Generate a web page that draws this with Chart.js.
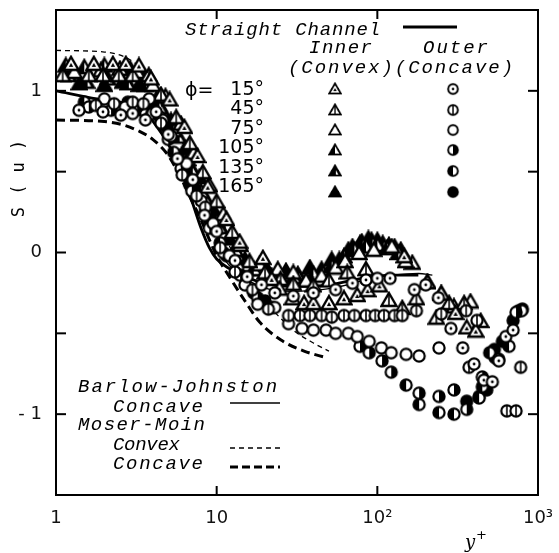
<!DOCTYPE html>
<html>
<head>
<meta charset="utf-8">
<script src="https://cdn.jsdelivr.net/npm/chart.js@4.4.0/dist/chart.umd.min.js"></script>
<style>
    html, body { margin: 0; padding: 0; background: #fff; }
    canvas { display: block; }
</style>
</head>
<body>
<canvas id="skewChart" width="559" height="553"></canvas>
<script>
// ==================== DATA ====================
const xTicks = [1, 10, 100, 1000];
const xTickLabels = ['1', '10', '10\u00B2', '10\u00B3'];
const yTicks = [-1, 0, 1];
const yTickLabels = ['- 1', '0', '1'];
const yTickMarks = [-1, -0.5, 0, 0.5, 1];
const phiLabels = ['15\u00B0', '45\u00B0', '75\u00B0', '105\u00B0', '135\u00B0', '165\u00B0'];

// lines [y+, S(u)]
const straightChannel = [[1,1.0],[1.8,0.95],[2.5,0.93],[3.5,0.88],[4.3,0.77],[5,0.67],[6,0.5],[7,0.32],[8,0.15],[9,0.03],[10,-0.04],[12,-0.1],[15,-0.15],[20,-0.19],[30,-0.21],[50,-0.2],[80,-0.16],[120,-0.14],[180,-0.14]];
const barlowConcave = [[10,0.02],[12,-0.08],[15,-0.16],[20,-0.22],[30,-0.24],[45,-0.23],[65,-0.2],[90,-0.16],[125,-0.14],[180,-0.13],[220,-0.14]];
const moserConvex = [[1,1.25],[2,1.24],[2.8,1.2],[3.5,1.12],[4.2,0.99],[5,0.86],[6,0.7],[7,0.55],[8,0.42],[10,0.2],[12,0.04],[15,-0.13],[20,-0.3],[30,-0.48],[40,-0.56],[50,-0.61]];
const moserConcave = [[1,0.82],[2,0.81],[2.6,0.79],[3.3,0.75],[4,0.7],[5,0.6],[6,0.46],[7,0.32],[8,0.2],[9,0.08],[10,-0.02],[12,-0.15],[15,-0.3],[18.5,-0.43],[25,-0.54],[35,-0.61],[48,-0.65]];

// inner (convex) wall, triangles
const inner15 = [[1.24,1.17],[1.72,1.17],[2.26,1.17],[2.72,1.17],[3.28,1.16],[3.9,1.08],[5.1,0.95],[6.3,0.78],[7.6,0.6],[8.8,0.41],[11.5,0.21],[13.9,0.07],[19.4,-0.03],[22,-0.16],[24.6,-0.22],[29.6,-0.28],[35,-0.31],[40,-0.31],[50,-0.31],[62,-0.28],[75,-0.26],[87,-0.23],[103,-0.2],[147,-0.02],[205,-0.18],[250,-0.25],[307,-0.37],[360,-0.46],[410,-0.48]];
const inner45 = [[1.1,1.1],[1.6,1.1],[1.96,1.1],[2.46,1.1],[3.0,1.1],[3.78,1.1],[4.5,0.98],[5.6,0.84],[6.8,0.68],[8.2,0.5],[10,0.32],[12.5,0.13],[16,-0.05],[20,-0.12],[25,-0.16],[30,-0.19],[40,-0.2],[50,-0.17],[65,-0.12],[85,-0.1],[118,-0.29],[143,-0.34],[175,-0.28],[233,-0.4],[280,-0.31],[347,-0.31],[440,-0.42]];
const inner75 = [[1.3,1.12],[1.9,1.13],[2.5,1.14],[3.2,1.12],[4.0,1.04],[4.8,0.97],[6,0.8],[7.2,0.62],[9,0.42],[11,0.24],[14,0.05],[18.5,-0.07],[24,-0.1],[30,-0.12],[36,-0.17],[45,-0.14],[55,-0.09],[63,-0.05],[77,0.0],[95,0.02],[123,0.04],[150,-0.05],[205,-0.18],[250,-0.25],[300,-0.33],[380,-0.3]];
const inner105 = [[1.15,1.16],[1.5,1.15],[2.0,1.16],[2.9,1.14],[3.5,1.08],[4.4,0.9],[5.4,0.76],[6.6,0.58],[8,0.38],[10,0.2],[13,0.02],[17,-0.1],[22,-0.14],[30,-0.15],[40,-0.13],[52,-0.08],[62,-0.02],[72,0.02],[85,0.04],[100,0.05],[115,0.03],[135,0.0],[165,-0.06]];
const inner135 = [[1.2,1.1],[1.55,1.06],[2.1,1.08],[2.8,1.05],[3.6,1.04],[4.6,0.88],[5.8,0.72],[7,0.52],[8.5,0.34],[10.5,0.16],[13.5,-0.01],[18,-0.1],[24,-0.13],[32,-0.13],[45,-0.1],[58,-0.04],[70,0.04],[80,0.07],[92,0.08],[108,0.06],[128,0.04]];
const inner165 = [[1.4,1.05],[2.0,1.04],[2.6,1.06],[3.3,1.04],[4.2,0.95],[5.2,0.82],[6.4,0.65],[7.8,0.47],[9.5,0.27],[12,0.09],[15,-0.04],[20,-0.08],[27,-0.11],[38,-0.09],[52,-0.04],[66,0.02],[78,0.06],[88,0.09],[100,0.08],[118,0.05],[140,0.02]];

// outer (concave) wall, circles
const outer15 = [[1.39,0.88],[1.96,0.87],[2.53,0.85],[3.0,0.86],[3.6,0.82],[4.2,0.87],[5.0,0.73],[5.7,0.58],[7.1,0.45],[8.4,0.23],[10,0.13],[13,-0.05],[15.5,-0.15],[19,-0.2],[23,-0.25],[30,-0.27],[40,-0.25],[55,-0.23],[70,-0.19],[85,-0.17],[100,-0.16],[120,-0.16],[170,-0.23],[200,-0.2],[240,-0.28],[287,-0.47],[340,-0.59],[400,-0.69],[460,-0.79],[520,-0.8],[570,-0.67],[630,-0.52],[700,-0.48]];
const outer45 = [[1.77,0.91],[2.3,0.92],[3.0,0.93],[3.5,0.92],[4.5,0.8],[6.1,0.48],[7.5,0.35],[8.5,0.28],[10.5,0.03],[13,-0.12],[16.7,-0.23],[21,-0.35],[28,-0.39],[33,-0.39],[38,-0.39],[45,-0.39],[52,-0.4],[62,-0.39],[72,-0.39],[85,-0.39],[97,-0.39],[110,-0.39],[128,-0.39],[143,-0.39],[175,-0.36],[250,-0.38],[357,-0.36],[417,-0.42],[372,-0.71],[640,-0.98],[730,-0.98],[780,-0.71]];
const outer75 = [[2.0,0.95],[2.7,0.9],[3.8,0.95],[4.6,0.82],[5.2,0.72],[6.5,0.55],[8,0.32],[9.5,0.18],[12,-0.02],[15,-0.2],[18,-0.32],[23,-0.34],[28,-0.44],[34,-0.47],[40,-0.48],[48,-0.48],[55,-0.5],[66,-0.5],[75,-0.52],[89,-0.55],[106,-0.59],[122,-0.62],[151,-0.63],[182,-0.64],[242,-0.59]];
const outer105 = [[1.6,0.9],[2.2,0.88],[3.2,0.9],[4.0,0.86],[5.0,0.7],[6.0,0.52],[7.0,0.38],[9,0.15],[11,0.0],[14,-0.14],[18,-0.28],[78,-0.58],[89,-0.62],[107,-0.67],[122,-0.74],[182,-0.87],[242,-0.89],[300,-0.85],[360,-0.97],[450,-0.77],[570,-0.66],[730,-0.37]];
const outer135 = [[1.5,0.93],[2.4,0.9],[3.4,0.88],[4.4,0.84],[5.4,0.62],[6.8,0.42],[8.5,0.25],[10.5,0.06],[13.5,-0.1],[17,-0.25],[22,-0.34],[151,-0.82],[182,-0.94],[242,-0.99],[300,-1.0],[430,-0.9],[450,-0.83],[500,-0.62],[660,-0.58],[790,-0.36]];
const outer165 = [[2.8,0.93],[3.9,0.9],[4.8,0.78],[5.8,0.6],[7.3,0.4],[9,0.2],[11.5,-0.02],[15,-0.15],[20,-0.3],[360,-0.92],[430,-0.89],[480,-0.85],[535,-0.6],[540,-0.65],[600,-0.55],[700,-0.42],[760,-0.36],[800,-0.35]];

// ==================== MARKERS ====================
function makeTriangle(kind) {
    const c = document.createElement('canvas');
    c.width = 18; c.height = 17;
    const g = c.getContext('2d');
    const path = () => { g.beginPath(); g.moveTo(9, 2); g.lineTo(16.5, 15); g.lineTo(1.5, 15); g.closePath(); };
    path();
    g.fillStyle = kind === 'full' ? '#000' : '#fff';
    g.fill();
    if (kind === 'left' || kind === 'most') {
        g.save(); path(); g.clip();
        g.fillStyle = '#000';
        g.fillRect(0, 0, kind === 'left' ? 9 : 18, 17);
        if (kind === 'most') {
            g.fillStyle = '#fff';
            g.beginPath(); g.moveTo(10, 8); g.lineTo(13.5, 14); g.lineTo(10, 14); g.closePath(); g.fill();
        }
        g.restore();
    }
    path();
    g.lineWidth = 2.4; g.strokeStyle = '#000'; g.lineJoin = 'miter';
    g.stroke();
    if (kind === 'dot') {
        g.fillStyle = '#000';
        g.beginPath(); g.moveTo(9, 8); g.lineTo(11.2, 12); g.lineTo(6.8, 12); g.closePath(); g.fill();
    }
    if (kind === 'line') {
        g.lineWidth = 1.6;
        g.beginPath(); g.moveTo(9, 3); g.lineTo(9, 15); g.stroke();
    }
    return c;
}

function makeCircle(kind) {
    const c = document.createElement('canvas');
    c.width = 16; c.height = 16;
    const g = c.getContext('2d');
    const path = () => { g.beginPath(); g.arc(8, 8, 5.6, 0, Math.PI * 2); };
    path();
    g.fillStyle = kind === 'full' ? '#000' : '#fff';
    g.fill();
    if (kind === 'right' || kind === 'left') {
        g.fillStyle = '#000';
        g.beginPath();
        if (kind === 'right') g.arc(8, 8, 5.6, -Math.PI / 2, Math.PI / 2);
        else g.arc(8, 8, 5.6, Math.PI / 2, Math.PI * 1.5);
        g.closePath(); g.fill();
    }
    path();
    g.lineWidth = 2.2; g.strokeStyle = '#000';
    g.stroke();
    if (kind === 'dot') {
        g.fillStyle = '#000';
        g.beginPath(); g.arc(8, 8, 1.4, 0, Math.PI * 2); g.fill();
    }
    if (kind === 'line') {
        g.lineWidth = 1.6;
        g.beginPath(); g.moveTo(8, 2.5); g.lineTo(8, 13.5); g.stroke();
    }
    return c;
}

const kinds = ['dot', 'line', 'open', 'left', 'most', 'full'];
const circleKinds = ['dot', 'line', 'open', 'right', 'left', 'full'];
const triMarks = kinds.map(makeTriangle);
const circMarks = circleKinds.map(makeCircle);

const innerSeries = [inner15, inner45, inner75, inner105, inner135, inner165];
const outerSeries = [outer15, outer45, outer75, outer105, outer135, outer165];

const toPts = arr => arr.map(([x, y]) => ({ x: x, y: y }));

function markerSet(arr, mark) {
    return { data: toPts(arr), pointStyle: mark, pointRadius: 6, showLine: false, order: 0 };
}
function lineSet(arr, width, dash) {
    return {
        data: toPts(arr), showLine: true, pointRadius: 0, borderColor: '#000',
        borderWidth: width, borderDash: dash, cubicInterpolationMode: 'monotone', order: 5
    };
}

const datasets = [];
outerSeries.forEach((s, i) => datasets.push(markerSet(s, circMarks[i])));
innerSeries.forEach((s, i) => datasets.push(markerSet(s, triMarks[i])));
datasets.push(lineSet(straightChannel, 2.8, []));
datasets.push(lineSet(barlowConcave, 1.3, []));
datasets.push(lineSet(moserConvex, 1.3, [5, 4]));
datasets.push(lineSet(moserConcave, 3, [9, 5]));

// ==================== FRAME, TICKS & LEGEND ====================
const monoItalic = 'italic 19px "Liberation Mono"';

function spacedText(ctx, text, x0, x1, yc, font) {
    ctx.font = font;
    ctx.letterSpacing = '0px';
    const w = ctx.measureText(text).width;
    const sp = (x1 - x0 - w) / Math.max(1, text.length - 1);
    ctx.letterSpacing = sp.toFixed(2) + 'px';
    ctx.textAlign = 'left';
    ctx.textBaseline = 'middle';
    ctx.fillText(text, x0, yc);
    ctx.letterSpacing = '0px';
}

function seg(ctx, x0, y0, x1, y1, w, dash) {
    ctx.lineWidth = w;
    ctx.setLineDash(dash || []);
    ctx.beginPath(); ctx.moveTo(x0, y0); ctx.lineTo(x1, y1); ctx.stroke();
    ctx.setLineDash([]);
}

const decorPlugin = {
    id: 'decor',
    afterDraw(chart) {
        const { ctx, chartArea: { left, right, top, bottom }, scales: { x, y } } = chart;
        ctx.save();
        ctx.strokeStyle = '#000';
        ctx.fillStyle = '#000';
        // frame
        ctx.lineWidth = 2;
        ctx.strokeRect(left, top, right - left, bottom - top);
        // inward ticks
        yTickMarks.forEach(v => {
            const py = y.getPixelForValue(v);
            seg(ctx, left, py, left + 10, py, 2);
            seg(ctx, right - 10, py, right, py, 2);
        });
        [10, 100].forEach(v => {
            const px = x.getPixelForValue(v);
            seg(ctx, px, bottom, px, bottom - 9, 2);
            seg(ctx, px, top, px, top + 9, 2);
        });

        // axis titles
        ctx.save();
        ctx.translate(20, 178);
        ctx.rotate(-Math.PI / 2);
        ctx.font = '17px "DejaVu Sans Mono"';
        ctx.textAlign = 'center';
        ctx.textBaseline = 'middle';
        ctx.letterSpacing = '1px';
        ctx.fillText('S ( u )', 0, 0);
        ctx.restore();
        ctx.font = 'italic 18px "DejaVu Serif"';
        ctx.textAlign = 'left';
        ctx.textBaseline = 'alphabetic';
        ctx.fillText('y', 465, 548);
        ctx.font = '13px "DejaVu Sans"';
        ctx.fillText('+', 476, 539);

        // upper legend
        spacedText(ctx, 'Straight Channel', 185, 380, 30, monoItalic);
        seg(ctx, 403, 27, 457, 27, 3);
        spacedText(ctx, 'Inner', 309, 372, 48, monoItalic);
        spacedText(ctx, 'Outer', 423, 488, 48, monoItalic);
        spacedText(ctx, '(Convex)(Concave)', 288, 513, 68, monoItalic);

        ctx.font = '19px "DejaVu Sans"';
        ctx.textBaseline = 'middle';
        ctx.textAlign = 'left';
        ctx.fillText('\u03D5=', 185, 91);
        const rowY = [90, 109, 129, 148, 168, 187];
        const markY = [89, 110, 130, 150, 171, 192];
        ctx.textAlign = 'right';
        phiLabels.forEach((lab, i) => ctx.fillText(lab, 264, rowY[i]));
        triMarks.forEach((m, i) => ctx.drawImage(m, 335 - 7, markY[i] - 7, 14, 13));
        circMarks.forEach((m, i) => ctx.drawImage(m, 453 - 7, markY[i] - 7, 14, 14));

        // lower legend
        ctx.strokeStyle = '#000';
        spacedText(ctx, 'Barlow-Johnston', 78, 277, 387, monoItalic);
        spacedText(ctx, 'Concave', 113, 203, 407, monoItalic);
        seg(ctx, 230, 403, 280, 403, 1.3);
        spacedText(ctx, 'Moser-Moin', 78, 205, 425, monoItalic);
        spacedText(ctx, 'Convex', 113, 180, 445, monoItalic);
        seg(ctx, 230, 448, 280, 448, 1.3, [5, 4]);
        spacedText(ctx, 'Concave', 113, 203, 464, monoItalic);
        seg(ctx, 230, 467, 280, 467, 3, [8, 4]);
        ctx.restore();
    }
};

const tickFont = { family: 'DejaVu Sans', size: 18 };

new Chart(document.getElementById('skewChart').getContext('2d'), {
    type: 'scatter',
    data: { datasets: datasets },
    options: {
        responsive: false,
        animation: false,
        devicePixelRatio: 1,
        layout: { padding: { left: 0, right: 21, top: 10, bottom: 0 } },
        scales: {
            x: {
                type: 'logarithmic',
                min: 1,
                max: 1000,
                afterBuildTicks: s => { s.ticks = xTicks.map(v => ({ value: v })); },
                afterFit: s => { s.height = 58; s.paddingLeft = 0; s.paddingRight = 0; },
                ticks: {
                    callback: v => xTickLabels[xTicks.indexOf(v)] || '',
                    font: tickFont, color: '#111', padding: 13,
                    maxRotation: 0, autoSkip: false
                },
                grid: { display: false, drawTicks: false },
                border: { display: false }
            },
            y: {
                type: 'linear',
                min: -1.5,
                max: 1.5,
                afterBuildTicks: s => { s.ticks = yTicks.map(v => ({ value: v })); },
                afterFit: s => { s.width = 56; s.paddingTop = 0; s.paddingBottom = 0; },
                ticks: {
                    callback: v => yTickLabels[yTicks.indexOf(v)] || '',
                    font: tickFont, color: '#111', padding: 14
                },
                grid: { display: false, drawTicks: false },
                border: { display: false }
            }
        },
        plugins: {
            legend: { display: false },
            tooltip: { enabled: false }
        }
    },
    plugins: [decorPlugin]
});
</script>
</body>
</html>
